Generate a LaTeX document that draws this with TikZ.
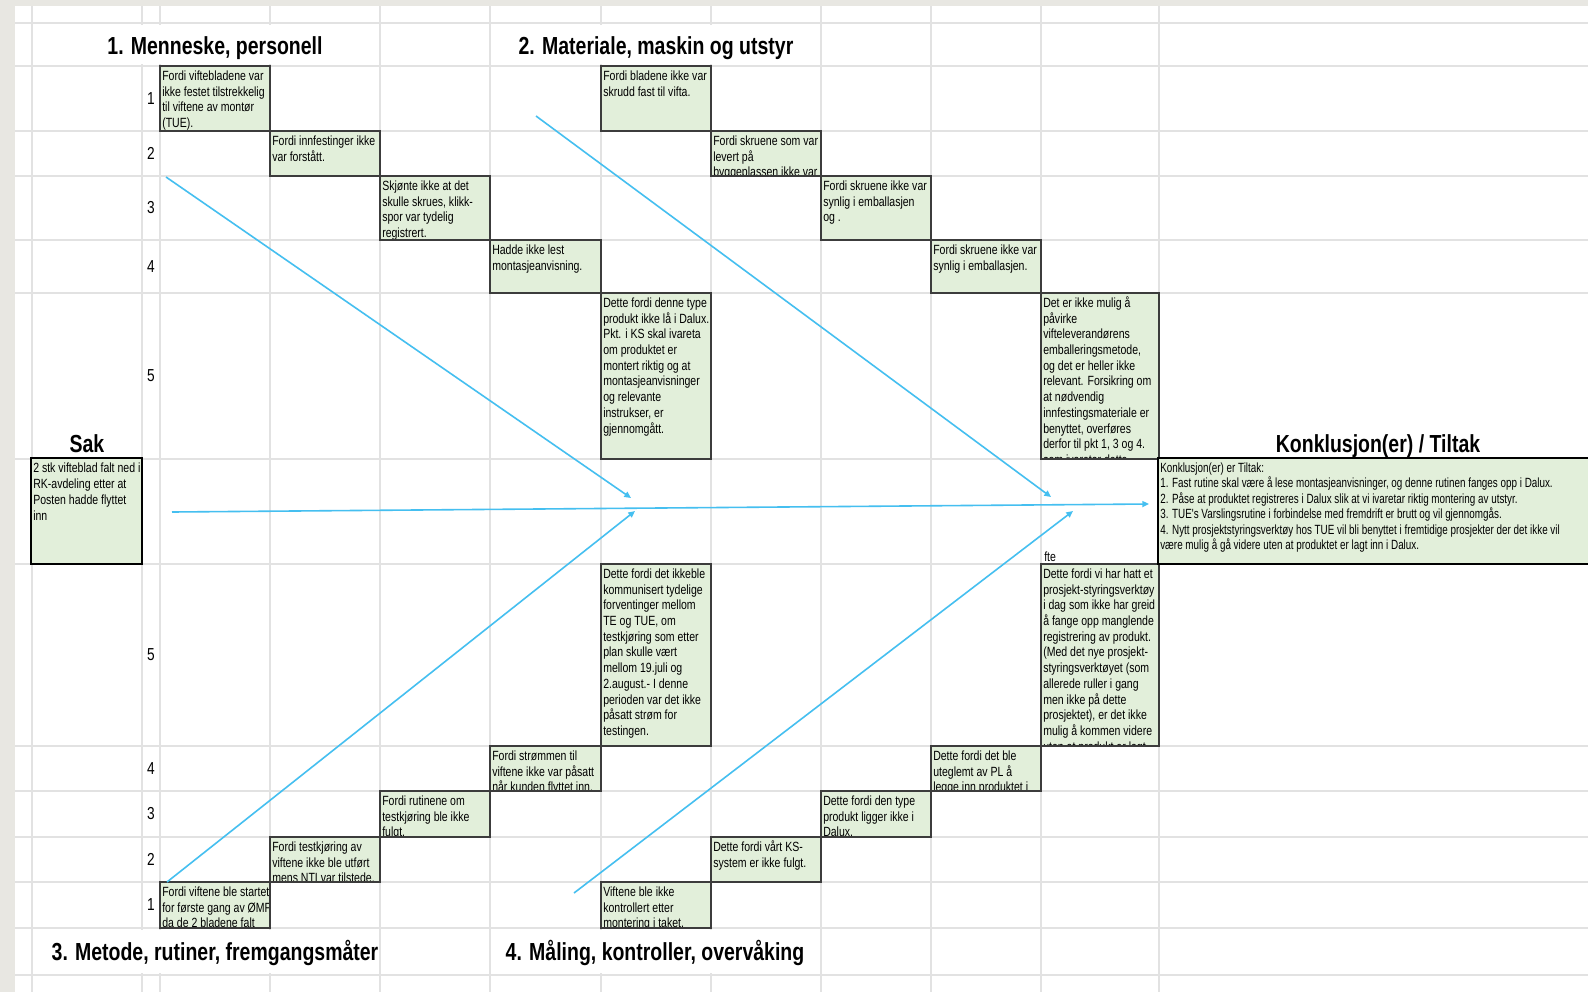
\documentclass[tikz,border=0pt]{standalone}
\usepackage{fontspec}
\setmainfont{Liberation Sans}[FakeStretch=0.79]
\newfontfamily\tiltakfont{Liberation Sans}[FakeStretch=0.74]
\usepackage{tikz}
\usetikzlibrary{arrows.meta}

\definecolor{sheetgrey}{HTML}{E8E7E2}
\definecolor{gridgrey}{HTML}{E2E2E2}
\definecolor{cellgreen}{HTML}{E2EFDA}
\definecolor{cellline}{HTML}{3C3C3C}
\definecolor{boneblue}{HTML}{45BFF0}

% one green cause cell: name, x0, y0, x1, y1, text (clipped to the cell)
\newcommand{\causecell}[6]{%
  \begin{scope}
    \clip (#2,#3) rectangle (#4,#5);
    \fill[cellgreen] (#2,#3) rectangle (#4,#5);
    \node[celltext] (#1) at (#2,#3) {\rule{0pt}{10.5pt}#6};
  \end{scope}
  \draw[cellline, line width=1.1pt] (#2,#3) rectangle (#4,#5);
}

\begin{document}
\begin{tikzpicture}[x=0.75pt, y=-0.75pt,
    gridline/.style={gridgrey, line width=1.1pt},
    celltext/.style={anchor=north west, inner xsep=1.5pt, inner ysep=0pt, align=left,
      font=\fontsize{10}{11.8}\selectfont},
    head/.style={anchor=base, font=\fontsize{18.5}{22}\selectfont\bfseries},
    rownum/.style={font=\fontsize{13}{15}\selectfont},
    bone/.style={boneblue, line width=1.2pt, -{Triangle[length=5pt,width=4.5pt]}}]
    \useasboundingbox (0,0) rectangle (1588,992);

    % sheet background and grid
    \fill[white] (0,0) rectangle (1588,992);
    \fill[sheetgrey] (0,0) rectangle (15,992);
    \fill[sheetgrey] (0,0) rectangle (1588,6);
    \foreach \gy in {23,66,131,176,240,293,459,564,746,791,837,882,928,975}
        \draw[gridline] (15,\gy) -- (1588,\gy);
    \foreach \gx in {32,142,160,270,380,490,601,711,821,931,1041,1159}
        \draw[gridline] (\gx,6) -- (\gx,992);
    \fill[white] (104,25) rectangle (326,64);
    \fill[white] (516,25) rectangle (797,64);
    \fill[white] (48,930) rectangle (378,973);
    \fill[white] (501,930) rectangle (810,973);

    % headings
    \node[head] (hMenneske) at (215,54) {1. Menneske, personell};
    \node[head] (hMateriale) at (656,54) {2. Materiale, maskin og utstyr};
    \node[head] (hSak) at (87,452) {Sak};
    \node[head] (hTiltak) at (1378,452) {Konklusjon(er) / Tiltak};
    \node[head] (hMetode) at (215,960) {3. Metode, rutiner, fremgangsmåter};
    \node[head] (hMaling) at (655,960) {4. Måling, kontroller, overvåking};

    % row numbers
    \node[rownum] (nrT1) at (151,98.5) {1};
    \node[rownum] (nrT2) at (151,153.5) {2};
    \node[rownum] (nrT3) at (151,208) {3};
    \node[rownum] (nrT4) at (151,266.5) {4};
    \node[rownum] (nrT5) at (151,376) {5};
    \node[rownum] (nrB5) at (151,655) {5};
    \node[rownum] (nrB4) at (151,768.5) {4};
    \node[rownum] (nrB3) at (151,814) {3};
    \node[rownum] (nrB2) at (151,859.5) {2};
    \node[rownum] (nrB1) at (151,905) {1};

    % 1. menneske
    \causecell{m1}{160}{66}{270}{131}{Fordi viftebladene var\\ikke festet tilstrekkelig\\til viftene av montør\\(TUE).}
    \causecell{m2}{270}{131}{380}{176}{Fordi innfestinger ikke\\var forstått.}
    \causecell{m3}{380}{176}{490}{240}{Skjønte ikke at det\\skulle skrues, klikk-\\spor var tydelig\\registrert.}
    \causecell{m4}{490}{240}{601}{293}{Hadde ikke lest\\montasjeanvisning.}
    \causecell{m5}{601}{293}{711}{459}{Dette fordi denne type\\produkt ikke lå i Dalux.\\Pkt. i KS skal ivareta\\om produktet er\\montert riktig og at\\montasjeanvisninger\\og relevante\\instrukser, er\\gjennomgått.}

    % 2. materiale
    \causecell{mat1}{601}{66}{711}{131}{Fordi bladene ikke var\\skrudd fast til vifta.}
    \causecell{mat2}{711}{131}{821}{176}{Fordi skruene som var\\levert på\\byggeplassen ikke var}
    \causecell{mat3}{821}{176}{931}{240}{Fordi skruene ikke var\\synlig i emballasjen\\og .}
    \causecell{mat4}{931}{240}{1041}{293}{Fordi skruene ikke var\\synlig i emballasjen.}
    \causecell{mat5}{1041}{293}{1159}{459}{Det er ikke mulig å\\påvirke\\vifteleverandørens\\emballeringsmetode,\\og det er heller ikke\\relevant. Forsikring om\\at nødvendig\\innfestingsmateriale er\\benyttet, overføres\\derfor til pkt 1, 3 og 4.\\som ivaretar dette}

    % 3. metode
    \causecell{met1}{160}{882}{270}{928}{Fordi viftene ble startet\\for første gang av ØMF\\da de 2 bladene falt}
    \causecell{met2}{270}{837}{380}{882}{Fordi testkjøring av\\viftene ikke ble utført\\mens NTI var tilstede.}
    \causecell{met3}{380}{791}{490}{837}{Fordi rutinene om\\testkjøring ble ikke\\fulgt.}
    \causecell{met4}{490}{746}{601}{791}{Fordi strømmen til\\viftene ikke var påsatt\\når kunden flyttet inn.}
    \causecell{met5}{601}{564}{711}{746}{Dette fordi det ikkeble\\kommunisert tydelige\\forventinger mellom\\TE og TUE, om\\testkjøring som etter\\plan skulle vært\\mellom 19.juli og\\2.august.- I denne\\perioden var det ikke\\påsatt strøm for\\testingen.}

    % 4. maaling
    \causecell{mal1}{601}{882}{711}{928}{Viftene ble ikke\\kontrollert etter\\montering i taket.}
    \causecell{mal2}{711}{837}{821}{882}{Dette fordi vårt KS-\\system er ikke fulgt.}
    \causecell{mal3}{821}{791}{931}{837}{Dette fordi den type\\produkt ligger ikke i\\Dalux.}
    \causecell{mal4}{931}{746}{1041}{791}{Dette fordi det ble\\uteglemt av PL å\\legge inn produktet i}
    \causecell{mal5}{1041}{564}{1159}{746}{Dette fordi vi har hatt et\\prosjekt-styringsverktøy\\i dag som ikke har greid\\å fange opp manglende\\registrering av produkt.\\(Med det nye prosjekt-\\styringsverktøyet (som\\allerede ruller i gang\\men ikke på dette\\prosjektet), er det ikke\\mulig å kommen videre\\uten at produkt er lagt}
    \node[celltext, anchor=base west] (fteNote) at (1042,561) {fte};

    % sak and tiltak
    \fill[cellgreen] (31,458) rectangle (142,564);
    \draw[black, line width=1.9pt] (31,458) rectangle (142,564);
    \node[celltext] (sak) at (31,458) {\rule{0pt}{11pt}2 stk vifteblad falt ned i\\RK-avdeling etter at\\Posten hadde flyttet\\inn};
    \fill[cellgreen] (1158,458) rectangle (1595,564);
    \draw[black, line width=1.9pt] (1158,458) rectangle (1595,564);
    \node[celltext, font=\fontsize{10}{11.6}\tiltakfont] (tiltak) at (1158,458) {\rule{0pt}{10.5pt}Konklusjon(er) er Tiltak:\\1. Fast rutine skal være å lese montasjeanvisninger, og denne rutinen fanges opp i Dalux.\\2. Påse at produktet registreres i Dalux slik at vi ivaretar riktig montering av utstyr.\\3. TUE's Varslingsrutine i forbindelse med fremdrift er brutt og vil gjennomgås.\\4. Nytt prosjektstyringsverktøy hos TUE vil bli benyttet i fremtidige prosjekter der det ikke vil\\være mulig å gå videre uten at produktet er lagt inn i Dalux.};

    % fishbone
    \coordinate (mTail) at (166,177);
    \coordinate (mHead) at (631,498);
    \coordinate (matTail) at (536,116);
    \coordinate (matHead) at (1051,497);
    \coordinate (spineTail) at (172,512);
    \coordinate (spineHead) at (1149,504);
    \coordinate (metTail) at (167,882);
    \coordinate (metHead) at (635,511);
    \coordinate (malTail) at (574,893);
    \coordinate (malHead) at (1073,511);
    \draw[bone] (mTail) -- (mHead);
    \draw[bone] (matTail) -- (matHead);
    \draw[bone] (spineTail) -- (spineHead);
    \draw[bone] (metTail) -- (metHead);
    \draw[bone] (malTail) -- (malHead);
\end{tikzpicture}
\end{document}
